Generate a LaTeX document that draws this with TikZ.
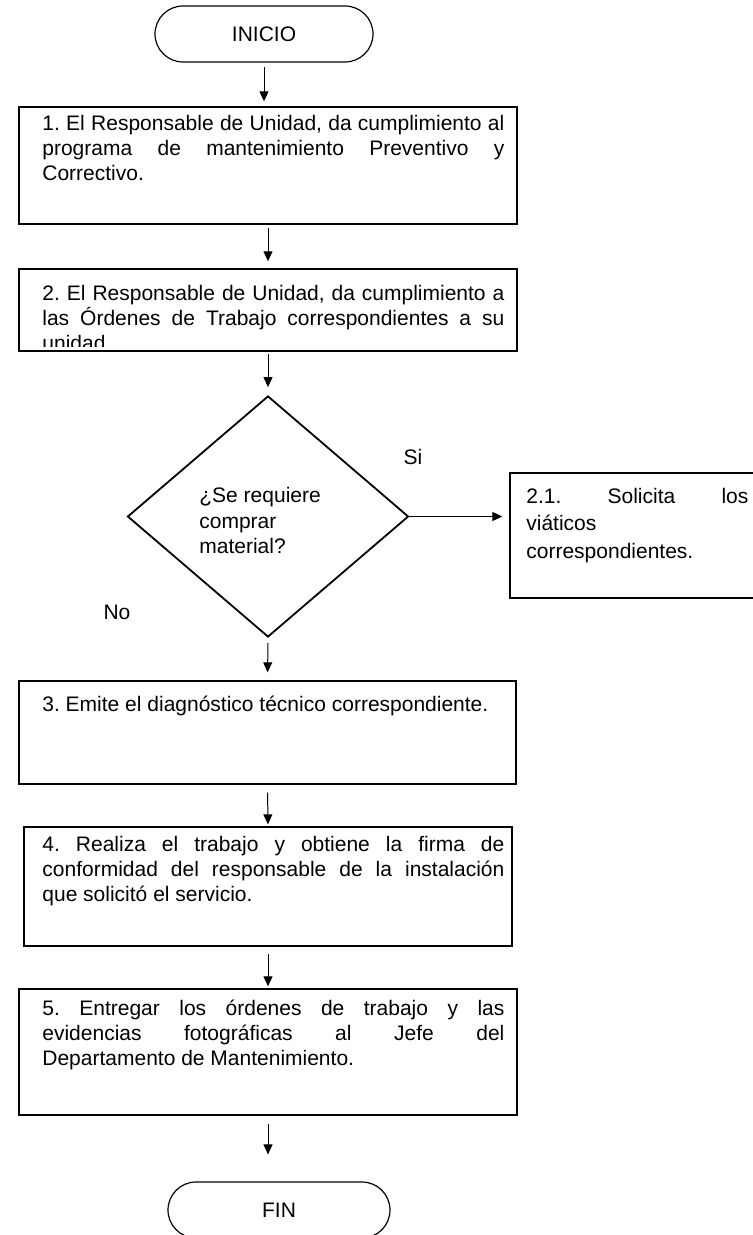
\documentclass[tikz,border=0pt]{standalone}
\usepackage{fontspec}
\setmainfont{Liberation Sans}
\usetikzlibrary{positioning,arrows.meta,shapes.geometric,calc}
\setlength{\parindent}{0pt}
\frenchspacing

\begin{document}
\begin{tikzpicture}[
    x=0.5pt, y=-0.5pt,
    >={Triangle[length=5pt,width=4.5pt]},
    every node/.style = {font=\fontsize{10.5}{12.5}\selectfont, inner sep=0pt},
    term/.style       = {draw, line width=0.6pt, rounded corners=14pt, minimum height=28pt},
    proc/.style       = {rectangle, draw, line width=0.7pt, minimum width=249pt},
    dec/.style        = {diamond, draw, line width=0.9pt, minimum width=140.5pt, minimum height=120.5pt},
    txt/.style        = {anchor=north west, text width=231pt, align=justify,
                          execute at begin node={\tolerance=9999\hyphenpenalty=10000\hbadness=10000
                                                 \lineskiplimit=-10pt}},
    arr/.style        = {->, line width=0.5pt},
]
\useasboundingbox (0,0) rectangle (752,1235);

% Start and end terminals
\node[term, minimum width=109pt] (inicio) at (264,34) {INICIO};
\node[term, minimum width=111pt] (fin) at (279,1210) {FIN};

% Process boxes
\node[proc, minimum height=58.5pt] (b1) at (268,165.5) {};
\node[proc, minimum height=41pt] (b2) at (268,310) {};
\node[proc, minimum height=51.5pt, minimum width=248.5pt] (b3) at (267.5,732.5) {};
\node[proc, minimum height=59.5pt, minimum width=244pt] (b4) at (268,886.5) {};
\node[proc, minimum height=63pt] (b5) at (268,1052) {};
\node[proc, minimum height=62.5pt, minimum width=127pt] (b21) at (637,535.5) {};

% Decision
\node[dec] (dq) at (268,516.5) {};
\node[anchor=north west, align=left, font=\fontsize{10.5}{12.75}\selectfont] (tq) at (199,484.7)
    {\strut¿Se requiere\\comprar\\material?};

% Box texts
\node[txt] (t1) at (42,112.5) {\strut 1. El Responsable de Unidad, da cumplimiento al\linebreak
    programa de mantenimiento Preventivo y\linebreak Correctivo.};
\begin{scope}
    \clip (b2.north west) rectangle ($(b2.south east)+(0,-5)$);
    \node[txt] (t2) at (42,282.5) {\strut 2. El Responsable de Unidad, da cumplimiento a\linebreak
        las Órdenes de Trabajo correspondientes a su\linebreak unidad.};
\end{scope}
\node[txt] (t3) at (42,693.5) {\strut 3. Emite el diagnóstico técnico correspondiente.};
\node[txt] (t4) at (42,833.5) {\strut 4. Realiza el trabajo y obtiene la firma de\linebreak
    conformidad del responsable de la instalación\linebreak que solicitó el servicio.};
\node[txt] (t5) at (42,997.5) {\strut 5. Entregar los órdenes de trabajo y las\linebreak
    evidencias fotográficas al Jefe del\linebreak Departamento de Mantenimiento.};
\node[txt, text width=111pt, font=\fontsize{10.5}{13.75}\selectfont] (t21) at (526,483.75)
    {\strut 2.1. Solicita los\linebreak viáticos\linebreak correspondientes.};

% Branch labels
\node (si) at (413,457) {Si};
\node (no) at (117,612) {No};

% Connectors
\draw[arr, shorten <=2pt, shorten >=2.5pt] (inicio.south) -- (inicio.south |- b1.north);
\draw[arr, shorten <=1.5pt, shorten >=3.5pt] (b1.south) -- (b2.north);
\draw[arr, shorten <=1pt, shorten >=4pt] (b2.south) -- (dq.north);
\draw[arr, shorten <=2.5pt, shorten >=4pt] (dq.south) -- (b3.north);
\draw[arr, shorten <=4pt, shorten >=1pt] (b3.south) -- (b4.north);
\draw[arr, shorten <=3.5pt, shorten >=1pt] (b4.south) -- (b5.north);
\draw[arr, shorten <=4pt, shorten >=13.5pt] (b5.south) -- (b5.south |- fin.north);
\draw[arr, shorten >=3.5pt] (dq.east) -- (dq.east -| b21.west);

\end{tikzpicture}
\end{document}
